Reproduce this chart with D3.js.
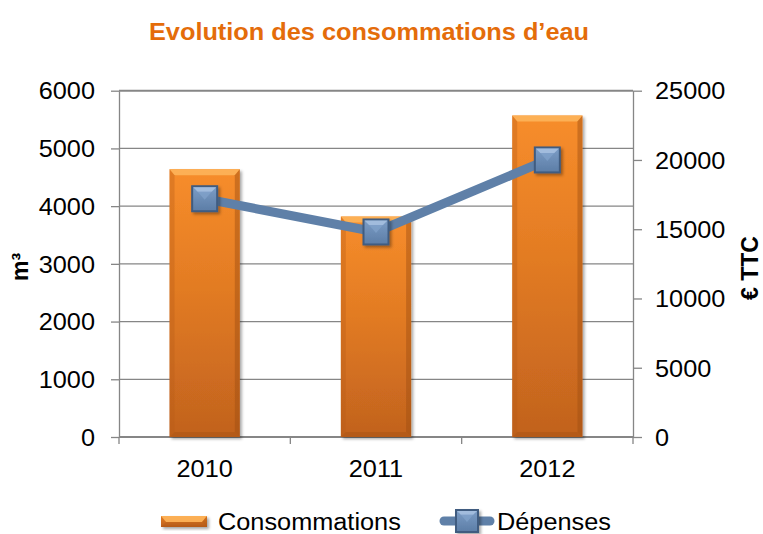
<!DOCTYPE html>
<html>
<head>
<meta charset="utf-8">
<script src="https://cdn.jsdelivr.net/npm/d3@7"></script>
<style>
  html, body { margin: 0; padding: 0; background: #fff; }
  svg { display: block; font-family: 'Liberation Sans', Arial, sans-serif; }
</style>
</head>
<body>
<div id="chart"></div>
<script>
// data
const years = ['2010', '2011', '2012']
const consommations = [4640, 3820, 5570]   // m³ (left axis)
const depenses = [17200, 14800, 20000]     // € TTC (right axis)
const leftTicks = [0, 1000, 2000, 3000, 4000, 5000, 6000]
const rightTicks = [0, 5000, 10000, 15000, 20000, 25000]

const W = 763, H = 534
const plot = { left: 119, right: 633, top: 90.7, bottom: 437 }
const grey = '#868686'
const stretchK = 1.1

const svg = d3.select('#chart').append('svg').attr('width', W).attr('height', H)
const defs = svg.append('defs')

const barGrad = defs.append('linearGradient').attr('id', 'barGrad')
  .attr('x1', 0).attr('y1', 0).attr('x2', 0).attr('y2', 1)
barGrad.append('stop').attr('offset', '0%').attr('stop-color', '#F78D2B')
barGrad.append('stop').attr('offset', '45%').attr('stop-color', '#E27B23')
barGrad.append('stop').attr('offset', '100%').attr('stop-color', '#C1621E')

const mkGrad = defs.append('linearGradient').attr('id', 'mkGrad')
  .attr('x1', 0).attr('y1', 0).attr('x2', 0).attr('y2', 1)
mkGrad.append('stop').attr('offset', '0%').attr('stop-color', '#7C9DC6')
mkGrad.append('stop').attr('offset', '100%').attr('stop-color', '#5C7DA6')

const shadow = defs.append('filter').attr('id', 'shadow')
  .attr('x', '-20%').attr('y', '-20%').attr('width', '150%').attr('height', '150%')
shadow.append('feDropShadow').attr('dx', 2).attr('dy', 2).attr('stdDeviation', 1.5)
  .attr('flood-color', '#000').attr('flood-opacity', 0.35)

function stretch(sel, k) {
  sel.each(function () {
    const w = this.getComputedTextLength()
    this.setAttribute('textLength', w * k)
    this.setAttribute('lengthAdjust', 'spacingAndGlyphs')
  })
}

// scales
const x = d3.scaleBand().domain(years).range([plot.left, plot.right]).padding(0)
const yL = d3.scaleLinear().domain([0, 6000]).range([plot.bottom, plot.top])
const yR = d3.scaleLinear().domain([0, 25000]).range([plot.bottom, plot.top])

// title
svg.append('text')
  .attr('x', 369).attr('y', 40)
  .attr('text-anchor', 'middle')
  .attr('font-size', 23).attr('font-weight', 'bold')
  .attr('fill', '#E46C0A')
  .text('Evolution des consommations d\u2019eau')
  .call(stretch, stretchK)

// gridlines
svg.append('g')
  .selectAll('line')
  .data(leftTicks)
  .join('line')
  .attr('x1', plot.left).attr('x2', plot.right)
  .attr('y1', d => yL(d)).attr('y2', d => yL(d))
  .attr('stroke', grey).attr('stroke-width', d => d === 6000 ? 2 : 1.3)

// left axis
const axL = svg.append('g')
  .attr('transform', `translate(${plot.left},0)`)
  .call(d3.axisLeft(yL).tickValues(leftTicks).tickSize(8).tickPadding(16).tickFormat(d3.format('d')).tickSizeOuter(0))
// right axis
const axR = svg.append('g')
  .attr('transform', `translate(${plot.right},0)`)
  .call(d3.axisRight(yR).tickValues(rightTicks).tickSize(9).tickPadding(13).tickFormat(d3.format('d')).tickSizeOuter(0))

for (const ax of [axL, axR]) {
  ax.select('.domain').attr('stroke', grey).attr('stroke-width', 1.3)
  ax.selectAll('.tick line').attr('stroke', grey).attr('stroke-width', 1.3)
  ax.selectAll('.tick text')
    .attr('font-size', 23).attr('fill', '#000')
    .attr('font-family', "'Liberation Sans', Arial, sans-serif")
    .attr('dy', '0.36em')
    .call(stretch, stretchK)
}

// bottom axis: baseline + boundary ticks + labels
const axB = svg.append('g')
axB.append('line')
  .attr('x1', plot.left).attr('x2', plot.right)
  .attr('y1', yL(0)).attr('y2', yL(0))
  .attr('stroke', grey).attr('stroke-width', 2)
axB.selectAll('line.tk')
  .data(years.map(d => x(d)).concat([x.range()[1]]))
  .join('line').attr('class', 'tk')
  .attr('x1', d => d).attr('x2', d => d)
  .attr('y1', yL(0)).attr('y2', yL(0) + 7)
  .attr('stroke', grey).attr('stroke-width', 1.3)
axB.selectAll('text')
  .data(years)
  .join('text')
  .attr('x', d => x(d) + x.bandwidth() / 2)
  .attr('y', 477)
  .attr('text-anchor', 'middle')
  .attr('font-size', 23)
  .text(d => d)
  .call(stretch, stretchK)

// axis titles
svg.append('text')
  .attr('transform', 'translate(28,267) rotate(-90)')
  .attr('text-anchor', 'middle')
  .attr('font-size', 23).attr('font-weight', 'bold')
  .text('m³')
svg.append('text')
  .attr('transform', 'translate(758,268) rotate(-90)')
  .attr('text-anchor', 'middle')
  .attr('font-size', 23).attr('font-weight', 'bold')
  .text('€ TTC')

// bars
const barW = x.bandwidth() * 0.41
function drawBar(g, bx, top, w, h) {
  const b = 5
  g.append('rect').attr('x', bx).attr('y', top).attr('width', w).attr('height', h)
    .attr('fill', 'url(#barGrad)').attr('filter', 'url(#shadow)')
  // bevel
  g.append('path')
    .attr('d', `M${bx},${top}L${bx + w},${top}L${bx + w - b},${top + b + 1}L${bx + b},${top + b + 1}Z`)
    .attr('fill', '#FDB45A').attr('opacity', 0.9)
  g.append('path')
    .attr('d', `M${bx},${top}L${bx + b},${top + b + 1}L${bx + b},${top + h - b}L${bx},${top + h}Z`)
    .attr('fill', '#B85C16').attr('opacity', 0.35)
  g.append('path')
    .attr('d', `M${bx + w},${top}L${bx + w - b},${top + b + 1}L${bx + w - b},${top + h - b}L${bx + w},${top + h}Z`)
    .attr('fill', '#9E4E12').attr('opacity', 0.45)
  g.append('path')
    .attr('d', `M${bx},${top + h}L${bx + b},${top + h - b}L${bx + w - b},${top + h - b}L${bx + w},${top + h}Z`)
    .attr('fill', '#9E4E12').attr('opacity', 0.35)
}
const barsG = svg.append('g')
years.forEach((yr, i) => {
  const cx = x(yr) + x.bandwidth() / 2
  const top = yL(consommations[i])
  drawBar(barsG.append('g'), cx - barW / 2, top, barW, yL(0) - top)
})

// line
const line = d3.line()
  .x((d, i) => x(years[i]) + x.bandwidth() / 2)
  .y(d => yR(d))
svg.append('path')
  .datum(depenses)
  .attr('d', line)
  .attr('fill', 'none')
  .attr('stroke', '#5F80A8')
  .attr('stroke-width', 9)
  .attr('stroke-linejoin', 'round')

function drawMarker(g, cx, cy, s) {
  const h = s / 2, b = s * 0.22
  g.append('rect').attr('x', cx - h).attr('y', cy - h).attr('width', s).attr('height', s)
    .attr('fill', 'url(#mkGrad)').attr('stroke', '#3F5B80').attr('stroke-width', 2)
    .attr('filter', 'url(#shadow)')
  g.append('path')
    .attr('d', `M${cx - h + 1},${cy - h + 1}L${cx + h - 1},${cy - h + 1}L${cx + h - b},${cy - h + b}L${cx - h + b},${cy - h + b}Z`)
    .attr('fill', '#A9C2E2').attr('opacity', 0.85)
  g.append('path')
    .attr('d', `M${cx - h + b},${cy - h + b}L${cx + h - b},${cy - h + b}L${cx},${cy + 1}Z`)
    .attr('fill', '#86A6CE').attr('opacity', 0.6)
}
const mkG = svg.append('g')
depenses.forEach((v, i) => {
  drawMarker(mkG, x(years[i]) + x.bandwidth() / 2, yR(v), 25)
})

// legend
const lg = svg.append('g')
drawBar(lg.append('g'), 161, 516, 46, 11)
lg.append('text').attr('x', 218).attr('y', 530).attr('font-size', 23)
  .text('Consommations').call(stretch, stretchK)
lg.append('line').attr('x1', 444).attr('x2', 490).attr('y1', 521).attr('y2', 521)
  .attr('stroke', '#5F80A8').attr('stroke-width', 9).attr('stroke-linecap', 'round')
drawMarker(lg, 467, 521, 22)
lg.append('text').attr('x', 497).attr('y', 530).attr('font-size', 23)
  .text('Dépenses').call(stretch, stretchK)
</script>
</body>
</html>
